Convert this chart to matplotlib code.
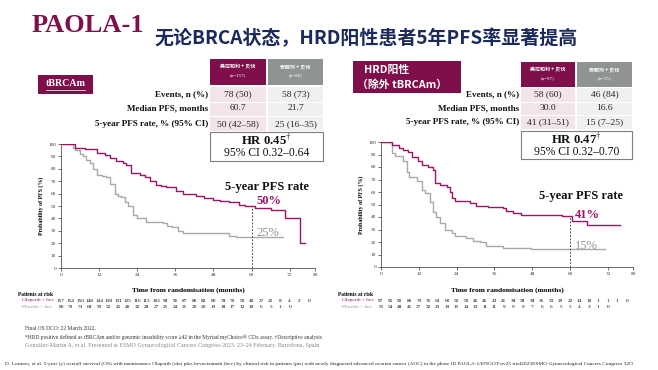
import matplotlib
matplotlib.use('Agg')
import matplotlib.pyplot as plt
from matplotlib.patches import Rectangle
from matplotlib.transforms import blended_transform_factory

plt.rcParams['font.family'] = ['Liberation Serif', 'Noto Sans CJK SC']
plt.rcParams['mathtext.fontset'] = 'stix'

# ---- data ----
arms = ['奥拉帕利 + 贝伐', '安慰剂 + 贝伐']
row_labels = ['Events, n (%)', 'Median PFS, months', '5-year PFS rate, % (95% CI)']

left_n = ['(n=157)', '(n=80)']
left_ola_vals = ['78 (50)', '60.7', '50 (42\u201358)']
left_pbo_vals = ['58 (73)', '21.7', '25 (16\u201335)']
left_hr = 'HR 0.45$^{\\dagger}$'
left_ci = '95% CI 0.32\u20130.64'
left_rate5 = [50, 25]

right_n = ['(n=97)', '(n=55)']
right_ola_vals = ['58 (60)', '30.0', '41 (31\u201351)']
right_pbo_vals = ['46 (84)', '16.6', '15 (7\u201325)']
right_hr = 'HR 0.47$^{\\dagger}$'
right_ci = '95% CI 0.32\u20130.70'
right_rate5 = [41, 15]

# KM curves (months, % PFS)
left_ola_t = [0, 4.4, 6, 7.5, 11.3, 12.5, 14, 15.5, 17.4, 19.5, 20.5, 22, 23, 25, 26.5, 27.9, 30,
              31.5, 33, 36.3, 38.4, 40, 42.6, 45, 47.9, 50, 53, 56, 58, 61, 66, 70.7, 75.4, 77]
left_ola_s = [100, 97, 96.5, 96, 93, 92.5, 91, 89, 86, 85, 83, 77, 76.5, 75, 73, 70, 67,
              66, 65, 62, 60, 59.5, 58, 56.5, 55, 54, 53, 51, 50, 48.5, 47, 40, 20, 20]
left_pbo_t = [0, 3.9, 4.5, 6, 7, 8, 9, 10, 11.3, 13, 14.3, 15.3, 16.9, 18, 19, 20, 21, 22.6,
              24, 26.7, 32, 33.5, 35, 37, 38.4, 49, 53, 55, 70]
left_pbo_s = [100, 97, 95, 92, 90, 87, 85, 80, 75, 74, 73, 68, 60, 58, 57, 53, 50, 43,
              40, 37, 36, 34, 33, 30, 28, 28, 26, 25, 25]
right_ola_t = [0, 3.5, 5.6, 7, 8.7, 9.8, 11.9, 12.9, 15, 16.6, 17.1, 18.7, 20.8, 21.8, 22.4,
               23.4, 28.1, 30.3, 34, 38.7, 39.7, 41.8, 44.4, 57.6, 60.7, 65.4, 76]
right_ola_s = [100, 98, 95, 94, 92, 88, 85, 82, 80, 78, 67, 66, 64, 60, 55,
               53, 51, 49, 48, 47, 45, 43, 42, 41, 37, 34, 34]
right_pbo_t = [0, 3.5, 4.5, 7.1, 8.2, 9, 11.3, 12.9, 14, 15.5, 16.6, 17.6, 18.7, 20.3, 22.4,
               23.4, 27.1, 29.2, 31.3, 33.4, 38.7, 47.6, 71.2]
right_pbo_s = [100, 91, 89, 85, 76, 72, 69, 62, 59, 52, 44, 40, 35, 30, 27,
               25, 23, 21, 20, 17, 15, 14.5, 14.5]

# patients at risk, every 3 months
risk_months = list(range(0, 79, 3))
left_risk_ola = [157, 154, 150, 148, 144, 138, 131, 125, 116, 113, 102, 98, 96, 87, 86, 82, 80,
                 78, 70, 50, 40, 27, 22, 8, 4, 2, 0]
left_risk_pbo = [80, 79, 73, 68, 59, 52, 45, 40, 32, 28, 27, 25, 24, 21, 20, 20, 19, 18, 17,
                 12, 10, 6, 5, 1, 0]
right_risk_ola = [97, 96, 90, 86, 79, 76, 64, 60, 50, 50, 46, 46, 43, 41, 38, 38, 38, 36, 33,
                  29, 22, 14, 10, 1, 1, 1, 0]
right_risk_pbo = [55, 54, 48, 41, 37, 32, 23, 19, 15, 14, 13, 11, 11, 9, 9, 9, 7, 6, 6, 5, 5,
                  4, 3, 1, 0]

MAROON = '#7e0f4b'
OLA = '#9c1463'
PBO = '#a4abaa'
NAVY = '#1b2a5c'

W, H = 658, 370
fig = plt.figure(figsize=(W / 100, H / 100), dpi=100)


def text(x, y, s, **kw):
    kw.setdefault('va', 'center')
    return fig.text(x / W, 1 - y / H, s, **kw)


def box(x0, y0, x1, y1, fc, ec='none', lw=0):
    fig.patches.append(Rectangle((x0 / W, 1 - y1 / H), (x1 - x0) / W, (y1 - y0) / H,
                                 transform=fig.transFigure, facecolor=fc, edgecolor=ec,
                                 linewidth=lw))


# ---- title ----
text(32, 26, 'PAOLA-1', fontsize=19, fontweight='bold', color=MAROON)
text(154, 38, '无论BRCA状态，HRD阳性患者5年PFS率显著提高', fontsize=13.7,
     fontweight='bold', color=NAVY, family=['Noto Sans CJK SC', 'DejaVu Sans'])


def draw_table(lab_x, c1, c2, head_y, rows_y, body_y, n_txt, ola_vals, pbo_vals,
               hr_box, hr, ci):
    box(c1[0], head_y[0], c1[1], head_y[1], MAROON)
    box(c2[0], head_y[0], c2[1], head_y[1], '#8f9493')
    for (a, b), arm, n in zip([c1, c2], arms, n_txt):
        cx = (a + b) / 2
        text(cx, head_y[0] + 8, arm, fontsize=3.6, color='white', ha='center',
             family=['Noto Sans CJK SC', 'DejaVu Sans'], fontweight='bold')
        text(cx, head_y[0] + 16, n, fontsize=3.6, color='white', ha='center')
    box(c1[0], body_y[0], c1[1], body_y[1], '#f3e4eb')
    box(c2[0], body_y[0], c2[1], body_y[1], '#f0f0f0')
    for y, lab, v1, v2 in zip(rows_y, row_labels, ola_vals, pbo_vals):
        text(lab_x, y, lab, fontsize=6.6, fontweight='bold', ha='right', color='#111111')
        text((c1[0] + c1[1]) / 2, y, v1, fontsize=6.8, ha='center', color='#222222')
        text((c2[0] + c2[1]) / 2, y, v2, fontsize=6.8, ha='center', color='#222222')
    for y in [(rows_y[0] + rows_y[1]) / 2 + 1, (rows_y[1] + rows_y[2]) / 2]:
        fig.add_artist(plt.Line2D([c1[0] / W, c2[1] / W], [1 - y / H] * 2, color='white', lw=0.8))
    x0, y0, x1, y1 = hr_box
    box(x0, y0, x1, y1, 'white', ec='#7f7f7f', lw=0.8)
    hh = y1 - y0
    text((x0 + x1) / 2, y0 + hh * 0.3, hr, fontsize=9.2, fontweight='bold', ha='center',
         color='#111111')
    text((x0 + x1) / 2, y0 + hh * 0.74, ci, fontsize=8.4, ha='center', color='#111111')


draw_table(208, (210, 266), (268, 323), (59, 85), [94, 108, 124], (87, 131), left_n,
           left_ola_vals, left_pbo_vals, (210, 132, 323, 161), left_hr, left_ci)
draw_table(519, (521, 575), (577, 632), (62, 87), [94, 108, 122], (88, 129), right_n,
           right_ola_vals, right_pbo_vals, (521, 131, 632, 159), right_hr, right_ci)

# subgroup tags
box(38, 75, 93, 94, MAROON)
text(65.5, 84, 'tBRCAm', fontsize=7.2, fontweight='bold', color='white', ha='center')
fig.add_artist(plt.Line2D([46 / W, 85 / W], [1 - 89.5 / H] * 2, color='white', lw=0.5))
box(353, 61, 461, 93, MAROON)
text(364, 70, 'HRD阳性', fontsize=7.8, fontweight='bold', color='white',
     family=['Noto Sans CJK SC', 'DejaVu Sans'])
text(357, 85, '（除外 tBRCAm）', fontsize=7.8, fontweight='bold', color='white',
     family=['Noto Sans CJK SC', 'DejaVu Sans'])


def draw_km(rect, ola_t, ola_s, pbo_t, pbo_s, rate5, txt_pos, risk_ola, risk_pbo, lab_x):
    x0, y0, x1, y1 = rect
    ax = fig.add_axes([x0 / W, 1 - y1 / H, (x1 - x0) / W, (y1 - y0) / H])
    ax.step(pbo_t, pbo_s, where='post', color=PBO, lw=1.0)
    ax.step(ola_t, ola_s, where='post', color=OLA, lw=1.0)
    ax.plot([60, 60], [0, rate5[0]], color='#555555', lw=0.7, ls=(0, (2, 1.5)))
    ax.set_xlim(0, 80)
    ax.set_ylim(0, 100)
    ax.set_xticks([0, 12, 24, 36, 48, 60, 72, 80])
    ax.set_yticks(range(0, 101, 10))
    ax.tick_params(labelsize=3.8, length=2, width=0.5, pad=1.5, colors='#333333')
    for s in ['top', 'right']:
        ax.spines[s].set_visible(False)
    for s in ['left', 'bottom']:
        ax.spines[s].set_linewidth(0.6)
        ax.spines[s].set_color('#555555')
    ax.set_ylabel('Probability of PFS (%)', fontsize=4.2, fontweight='bold', labelpad=3)
    tx, ty, t1y, t2y = txt_pos
    ax.text(tx, ty, '5-year PFS rate', fontsize=9, fontweight='bold', va='center', color='#111111')
    ax.text(61.5, t1y, f'{rate5[0]}%', fontsize=9, fontweight='bold', color=OLA, va='center')
    ax.text(61.5, t2y, f'{rate5[1]}%', fontsize=9, color='#8f9493', va='center')
    # x label and risk table below the axes
    tr = blended_transform_factory(ax.transData, fig.transFigure)
    ax.text(40, 1 - 290 / H, 'Time from randomisation (months)', transform=tr, ha='center',
            va='center', fontsize=5.4, fontweight='bold')
    ax.text(lab_x, 1 - 294 / H, 'Patients at risk', transform=fig.transFigure, fontsize=4,
            fontweight='bold', va='center')
    ax.text(lab_x + 4 / W, 1 - 300.5 / H, 'Olaparib + bev', transform=fig.transFigure,
            fontsize=3.8, color=OLA, va='center')
    ax.text(lab_x + 4 / W, 1 - 307.5 / H, 'Placebo + bev', transform=fig.transFigure,
            fontsize=3.8, color='#8f9493', va='center')
    for m, n in zip(risk_months, risk_ola):
        ax.text(m, 1 - 300.5 / H, str(n), transform=tr, ha='center', va='center', fontsize=3.8)
    for m, n in zip(risk_months, risk_pbo):
        ax.text(m, 1 - 307.5 / H, str(n), transform=tr, ha='center', va='center', fontsize=3.8)
    return ax


draw_km((61, 144, 315, 268), left_ola_t, left_ola_s, left_pbo_t, left_pbo_s, left_rate5,
        (51.5, 65, 54, 28), left_risk_ola, left_risk_pbo, 18 / W)
draw_km((381, 142, 633, 267), right_ola_t, right_ola_s, right_pbo_t, right_pbo_s, right_rate5,
        (50.2, 57, 41.5, 17), right_risk_ola, right_risk_pbo, 338 / W)

# ---- footnotes ----
text(25, 328, 'Final OS DCO: 22 March 2022.', fontsize=4.0, color='#333333')
text(25, 337, '*HRD positive defined as tBRCAm and/or genomic instability score \u226542 in the '
     'Myriad myChoice\u00ae CDx assay. \u2020Descriptive analysis', fontsize=4.0, color='#333333')
text(25, 345.5, 'Gonz\u00e1lez-Mart\u00edn A, et al. Presented at ESMO Gynaecological Cancers '
     'Congress 2023. 23\u201324 February. Barcelona, Spain', fontsize=4.3, color='#888888')
text(5, 364, 'D. Lorusso, et al. 5-year (y) overall survival (OS) with maintenance Olaparib (ola) '
     'plus bevacizumab (bev) by clinical risk in patients (pts) with newly diagnosed advanced '
     'ovarian cancer (AOC) in the phase III PAOLA-1/ENGOT-ov25 trial2023ESMO Gynaecological '
     'Cancers Congress 32O', fontsize=3.9, color='#222222')

fig.savefig('out.png', dpi=100)
